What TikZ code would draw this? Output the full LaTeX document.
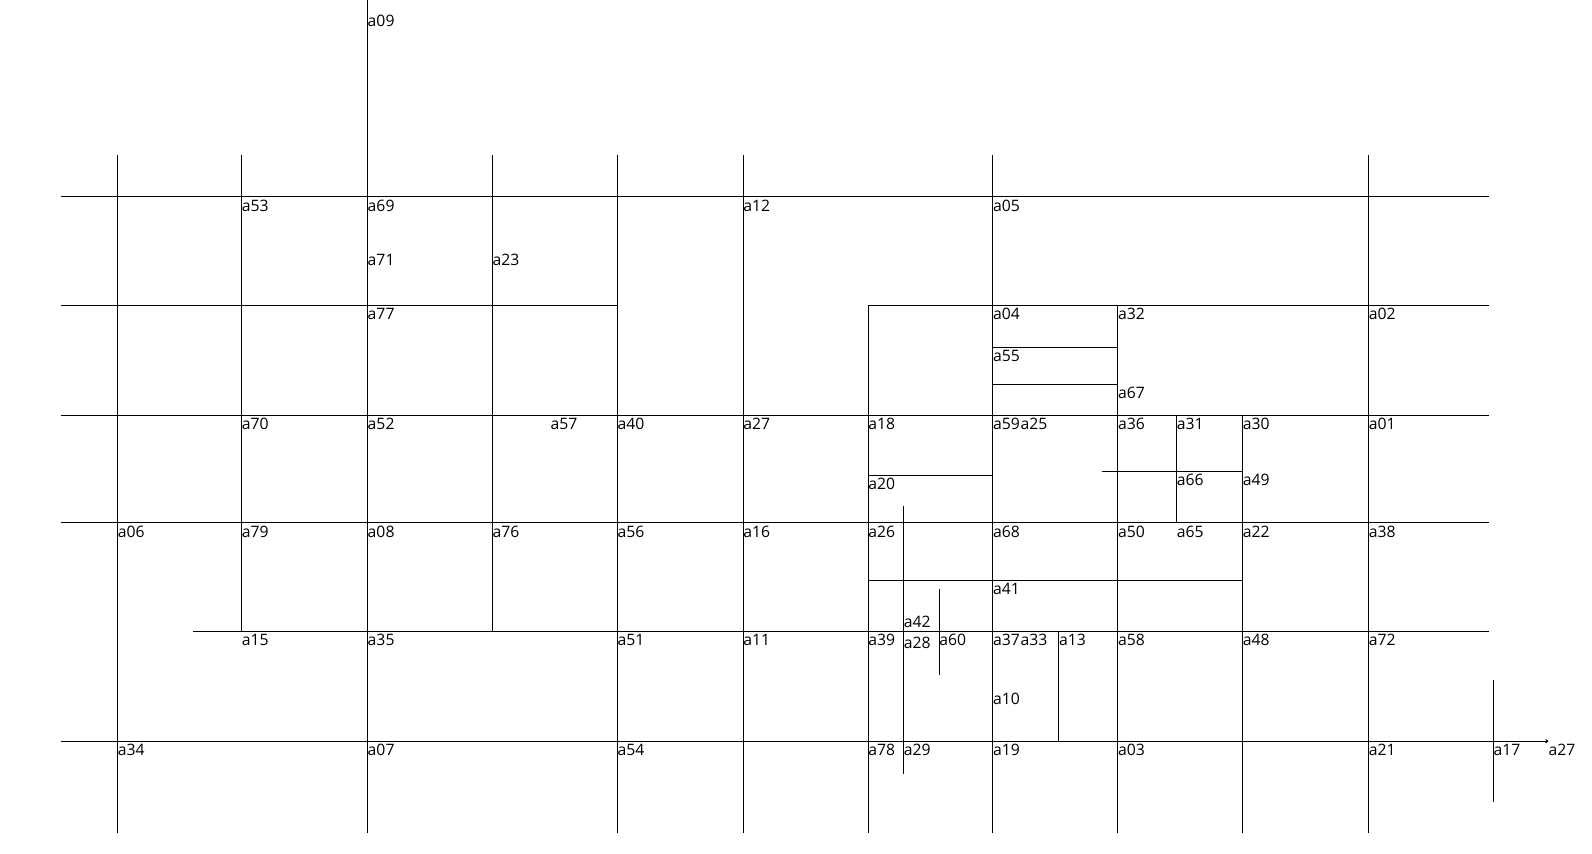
\documentclass[tikz,border=0pt]{standalone}
\usepackage{fontspec}
\setmainfont{Open Sans}
\usetikzlibrary{arrows.meta}
\begin{document}
\begin{tikzpicture}[x=1pt,y=-1pt,
  ln/.style={draw=black,line width=1pt},
  lbl/.style={anchor=north west,inner sep=0pt,yshift=-2.5pt,font=\fontsize{15.5}{17}\selectfont}]
\useasboundingbox (0,0) rectangle (1568,841);
% labelled points
\foreach \n/\x/\y in {
 09/362/12, 53/238/194, 69/362/194, 12/732/194, 05/978/194,
 71/362/248, 23/485/248,
 77/362/301, 04/978/301, 32/1101/301, 02/1348/301,
 55/978/342, 67/1101/379,
 70/238/409, 52/362/409, 57/542/409, 40/608/409, 27/732/409, 18/855/409, 59/978/409, 25/1005/409, 36/1101/409, 31/1159/409, 30/1224/409, 01/1348/409,
 20/855/468, 66/1159/464, 49/1224/464,
 06/116/515, 79/238/515, 08/362/515, 76/485/515, 56/608/515, 16/732/515, 26/855/515, 68/978/515, 50/1101/515, 65/1159/515, 22/1224/515, 38/1348/515,
 41/978/572, 42/890/604,
 15/238/622, 35/362/622, 51/608/622, 11/732/622, 39/855/622, 28/890/625, 60/925/622, 37/978/622, 33/1005/622, 13/1043/622, 58/1101/622, 48/1224/622, 72/1348/622,
 10/978/680,
 34/116/730, 07/362/730, 54/608/730, 78/855/730, 29/890/730, 19/978/730, 03/1101/730, 21/1348/730, 17/1471/730, b27/1525/730}
 {\coordinate (a\n) at (\x,\y);}
\foreach \n in {09,53,69,12,05,71,23,77,04,32,02,55,67,70,52,57,40,27,18,59,25,36,31,30,01,20,66,49,06,79,08,76,56,16,26,68,50,65,22,38,41,42,15,35,51,11,39,28,60,37,33,13,58,48,72,10,34,07,54,78,29,19,03,21,17}
 {\node[lbl] (l\n) at (a\n) {a\n};}
\node[lbl] (lb27) at (ab27) {a27};
% free line ends
\foreach \n/\x/\y in {
 h1l/60/194, h1r/1467/194, h2l/60/301, h2r/1467/301, h2m/855/301,
 h3l/60/409, h3r/1467/409, h4l/60/515, h4r/1467/515,
 h5l/190/622, h5r/1467/622, h6l/60/730,
 s55r/1101/342, s67l/978/379, s20r/978/468, s66l/1085/464, s41l/855/572, s41r/1224/572,
 v116t/116/153, v116b/116/820, v238t/238/153, v362t/362/0, v362b/362/820,
 v485t/485/153, v485b/485/622, v608t/608/153, v608b/608/820, v732t/732/153, v732b/732/820,
 v855b/855/820, v890t/890/498, v890b/890/762, v925t/925/580, v925b/925/665,
 v978t/978/153, v978b/978/820, v1101b/1101/820, v1224b/1224/820,
 v1348t/1348/153, v1348b/1348/820, v1471t/1471/670, v1471b/1471/790}
 {\coordinate (\n) at (\x,\y);}
% horizontal lines
\draw[ln] (h1l) -- (h1r);
\draw[ln] (h2l) -- (a40 |- h2l);
\draw[ln] (h2m) -- (h2r);
\draw[ln] (h3l) -- (h3r);
\draw[ln] (h4l) -- (h4r);
\draw[ln] (h5l) -- (h5r);
\draw[ln,-{To[length=3pt,width=4pt]}] (h6l) -- (ab27);
\draw[ln] (a55) -- (s55r);
\draw[ln] (s67l) -- (a67);
\draw[ln] (a20) -- (s20r);
\draw[ln] (s66l) -- (a49);
\draw[ln] (s41l) -- (s41r);
% vertical lines
\draw[ln] (v116t) -- (v116b);
\draw[ln] (v238t) -- (a15);
\draw[ln] (v362t) -- (v362b);
\draw[ln] (v485t) -- (v485b);
\draw[ln] (v608t) -- (v608b);
\draw[ln] (v732t) -- (v732b);
\draw[ln] (h2m) -- (v855b);
\draw[ln] (v890t) -- (v890b);
\draw[ln] (v925t) -- (v925b);
\draw[ln] (v978t) -- (v978b);
\draw[ln] (a13) -- (a13 |- a34);
\draw[ln] (a32) -- (v1101b);
\draw[ln] (a31) -- (a65);
\draw[ln] (a30) -- (v1224b);
\draw[ln] (v1348t) -- (v1348b);
\draw[ln] (v1471t) -- (v1471b);
\end{tikzpicture}
\end{document}
